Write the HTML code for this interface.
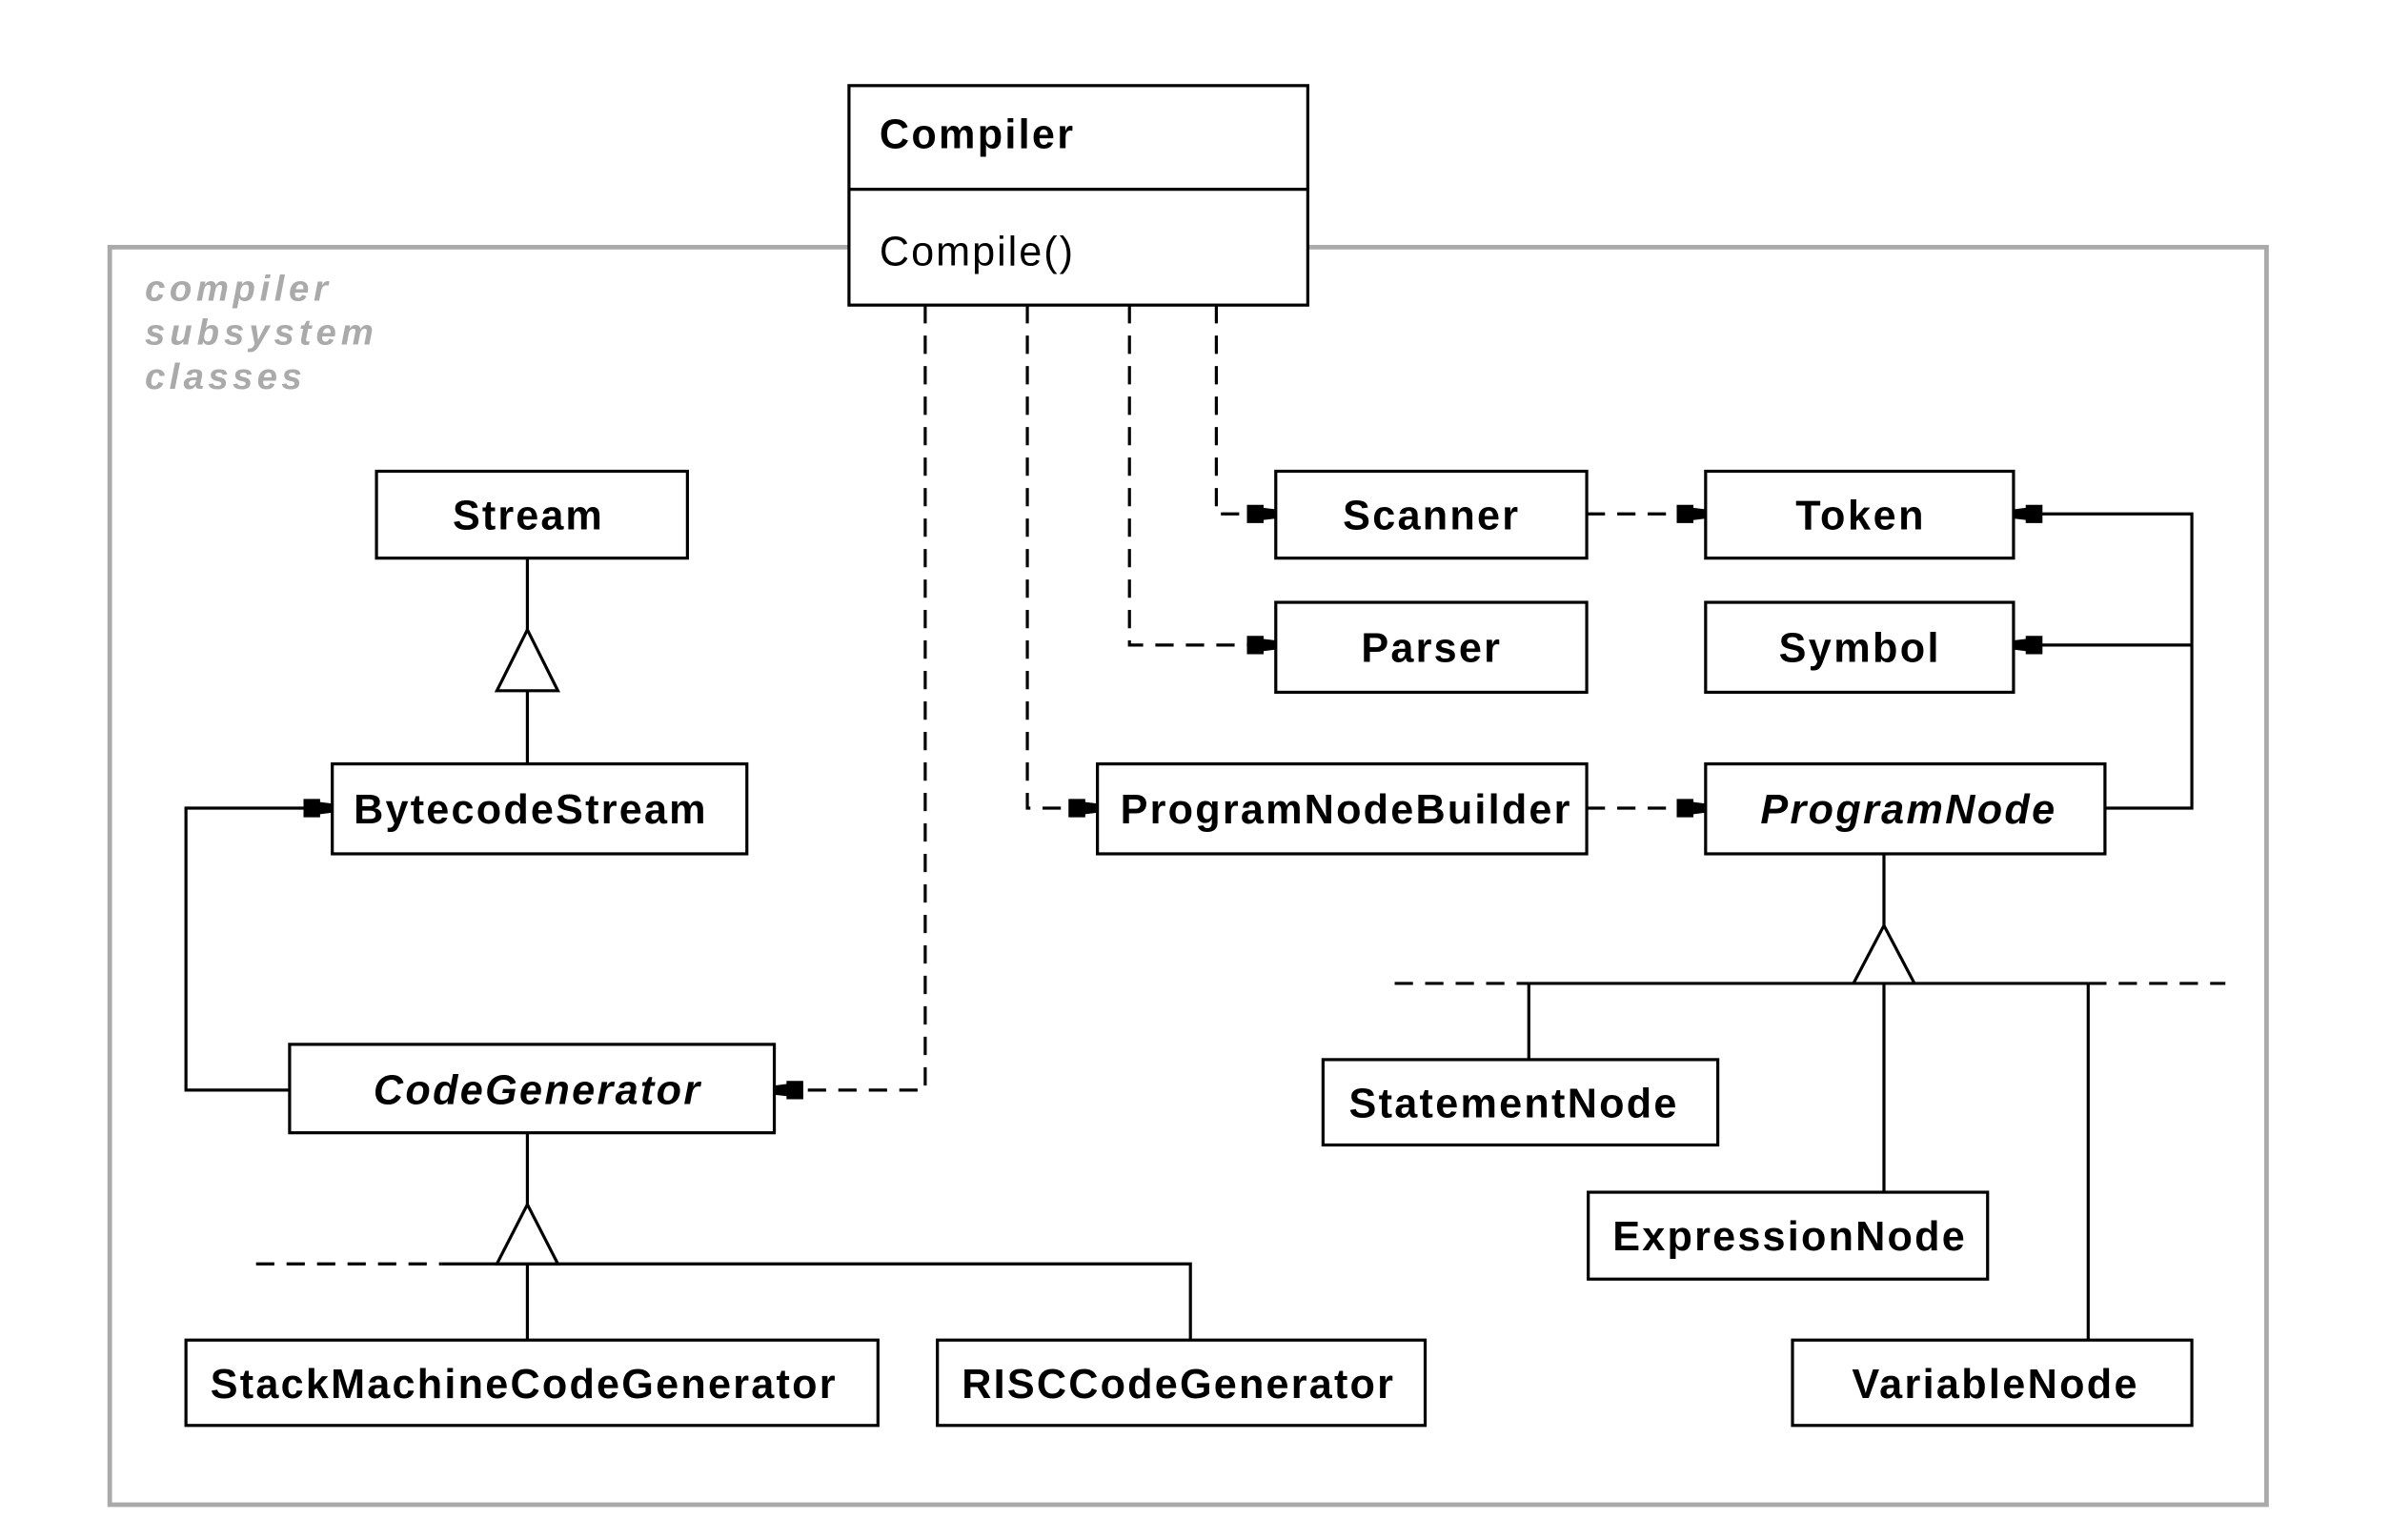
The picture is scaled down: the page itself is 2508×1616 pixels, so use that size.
<!DOCTYPE html>
<html><head><style>html,body{margin:0;padding:0;background:#fff}svg{display:block}</style></head>
<body>
<svg width="2508" height="1616" viewBox="0 0 1568 1010" xmlns="http://www.w3.org/2000/svg" font-family="Liberation Sans, sans-serif">
<defs>
<marker id="a" markerWidth="20" markerHeight="14" refX="19" refY="7" orient="auto" markerUnits="userSpaceOnUse">
<path d="M0,1 L11,1 L11,3 L19,4 L19,10 L11,11 L11,13 L0,13 Z" fill="#000"/>
</marker>
</defs>
<rect x="72" y="162" width="1415" height="825" fill="none" stroke="#aaa" stroke-width="3"/>
<g fill="#aaa" font-style="italic" font-weight="bold" font-size="24">
<text x="95" y="197" textLength="120" lengthAdjust="spacing">compiler</text><text x="95" y="226" textLength="150" lengthAdjust="spacing">subsystem</text><text x="95" y="255" textLength="103" lengthAdjust="spacing">classes</text>
</g>
<g stroke="#000" stroke-width="2" fill="none">
<g stroke-dasharray="12,8">
<path d="M798,200 V337 H837" marker-end="url(#a)"/>
<path d="M741,200 V423 H837" marker-end="url(#a)"/>
<path d="M674,200 V530 H720" marker-end="url(#a)"/>
<path d="M607,200 V715 H508" marker-end="url(#a)"/>
<path d="M1041,337 H1119" marker-end="url(#a)"/>
<path d="M1041,530 H1119" marker-end="url(#a)"/>
<path d="M168,829 H290"/>
<path d="M915,645 H1003"/>
<path d="M1370,645 H1460"/>
</g>
<path d="M1381,530 H1438 V337 H1321" marker-end="url(#a)"/>
<path d="M1438,423 H1321" marker-end="url(#a)"/>
<path d="M190,715 H122 V530 H218" marker-end="url(#a)"/>
<path d="M346,366 V413 M346,453 V501"/>
<path d="M346,413 L366,453 H326 Z" fill="#fff"/>
<path d="M346,743 V790 M290,829 H781 V879 M346,829 V879"/>
<path d="M346,790 L366,829 H326 Z" fill="#fff"/>
<path d="M1236,560 V607 M1003,645 H1370 M1003,645 V695 M1236,645 V782 M1370,645 V879"/>
<path d="M1236,607 L1256,645 H1216 Z" fill="#fff"/>
</g>
<g stroke="#000" stroke-width="2" fill="#fff">
<rect x="557" y="56" width="301" height="144"/><line x1="557" y1="124" x2="858" y2="124"/>
<rect x="247" y="309" width="204" height="57"/>
<rect x="218" y="501" width="272" height="59"/>
<rect x="190" y="685" width="318" height="58"/>
<rect x="122" y="879" width="454" height="56"/>
<rect x="615" y="879" width="320" height="56"/>
<rect x="837" y="309" width="204" height="57"/>
<rect x="1119" y="309" width="202" height="57"/>
<rect x="837" y="395" width="204" height="59"/>
<rect x="1119" y="395" width="202" height="59"/>
<rect x="720" y="501" width="321" height="59"/>
<rect x="1119" y="501" width="262" height="59"/>
<rect x="868" y="695" width="259" height="56"/>
<rect x="1042" y="782" width="262" height="57"/>
<rect x="1176" y="879" width="262" height="56"/>
</g>
<g font-size="27" font-weight="bold" fill="#000">
<text x="577" y="97" textLength="127" lengthAdjust="spacing">Compiler</text>
<text x="577" y="174" font-weight="normal" textLength="127" lengthAdjust="spacing">Compile()</text>
<text x="297" y="347" textLength="98" lengthAdjust="spacing">Stream</text>
<text x="232" y="540" textLength="231" lengthAdjust="spacing">BytecodeStream</text>
<text x="245" y="724" font-style="italic" textLength="214" lengthAdjust="spacing">CodeGenerator</text>
<text x="138" y="917" textLength="410" lengthAdjust="spacing">StackMachineCodeGenerator</text>
<text x="631" y="917" textLength="283" lengthAdjust="spacing">RISCCodeGenerator</text>
<text x="881" y="347" textLength="115" lengthAdjust="spacing">Scanner</text>
<text x="1178" y="347" textLength="84" lengthAdjust="spacing">Token</text>
<text x="893" y="434" textLength="91" lengthAdjust="spacing">Parser</text>
<text x="1167" y="434" textLength="105" lengthAdjust="spacing">Symbol</text>
<text x="735" y="540" textLength="295" lengthAdjust="spacing">ProgramNodeBuilder</text>
<text x="1155" y="540" font-style="italic" textLength="193" lengthAdjust="spacing">ProgramNode</text>
<text x="885" y="733" textLength="215" lengthAdjust="spacing">StatementNode</text>
<text x="1058" y="820" textLength="231" lengthAdjust="spacing">ExpressionNode</text>
<text x="1215" y="917" textLength="187" lengthAdjust="spacing">VariableNode</text>
</g>
</svg>
</body></html>
